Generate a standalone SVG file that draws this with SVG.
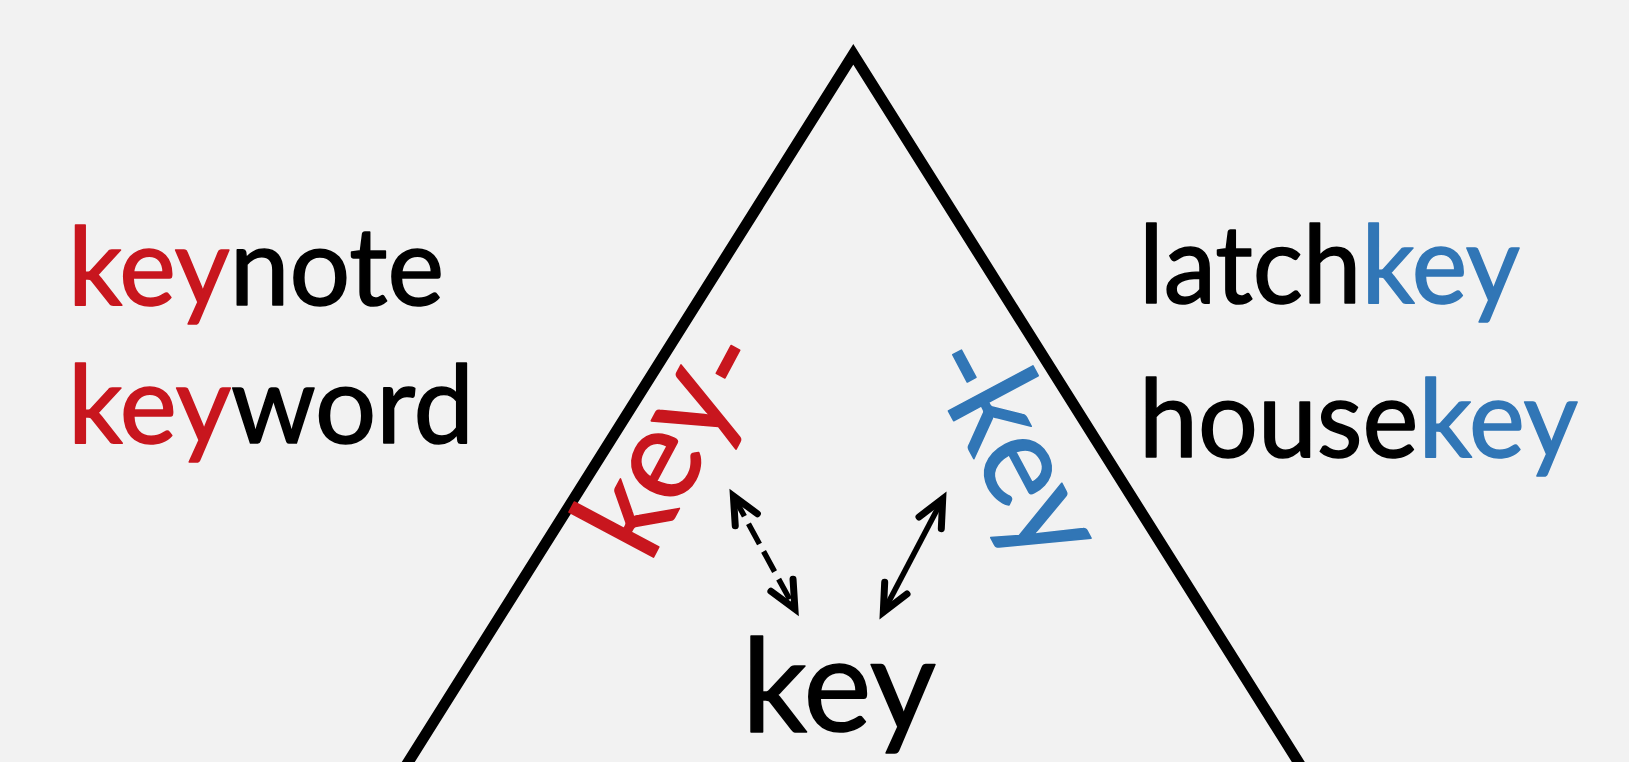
<svg xmlns="http://www.w3.org/2000/svg" width="1629" height="762" viewBox="0 0 1629 762">
  <style>
    .w { font-family: Lato, "Liberation Sans", "DejaVu Sans", sans-serif; fill: #000; stroke: #000; stroke-width: 1.6; stroke-linejoin: round; }
    .red { fill: #C8161E; stroke: #C8161E; }
    .blue { fill: #3176B6; stroke: #3176B6; }
    .conn { fill: none; stroke: #000; stroke-width: 5.5; }
    .dash { stroke-dasharray: 23 8.5; }
  </style>
  <defs>
    <marker id="head" markerUnits="userSpaceOnUse" orient="auto-start-reverse" refX="0" refY="0" markerWidth="60" markerHeight="60" overflow="visible">
      <path d="M -27,-12.6 L 0,0 L -27,12.6" fill="none" stroke="#000" stroke-width="7" stroke-linejoin="miter" stroke-linecap="round" stroke-dasharray="none"/>
    </marker>
  </defs>
  <rect x="0" y="0" width="1629" height="762" fill="#F2F2F2"/>

  <g id="triangle">
    <polyline points="380.6,806 853.3,54.3 1326,806" fill="none" stroke="#000" stroke-width="11" stroke-linejoin="miter" stroke-miterlimit="10"/>
  </g>

  <g id="node-keynote">
    <text class="w" x="68" y="305" font-size="108" textLength="376" lengthAdjust="spacingAndGlyphs"><tspan class="red">key</tspan>note</text>
  </g>
  <g id="node-keyword">
    <text class="w" x="68" y="443" font-size="108" textLength="406" lengthAdjust="spacingAndGlyphs"><tspan class="red">key</tspan>word</text>
  </g>
  <g id="node-latchkey">
    <text class="w" x="1139" y="303" font-size="108" textLength="381" lengthAdjust="spacingAndGlyphs">latch<tspan class="blue">key</tspan></text>
  </g>
  <g id="node-housekey">
    <text class="w" x="1139" y="457" font-size="108" textLength="439" lengthAdjust="spacingAndGlyphs">house<tspan class="blue">key</tspan></text>
  </g>

  <g id="node-key-prefix">
    <text class="w red" transform="translate(649.3,565) rotate(-62)" x="0" y="0" font-size="130" textLength="240" lengthAdjust="spacingAndGlyphs">key<tspan dy="13">-</tspan></text>
  </g>
  <g id="node-key-suffix">
    <text class="w blue" transform="translate(922.5,361.8) rotate(62)" x="0" y="0" font-size="130" textLength="236" lengthAdjust="spacingAndGlyphs"><tspan dy="4">-</tspan><tspan dy="-4">key</tspan></text>
  </g>
  <g id="node-key">
    <text class="w" x="742" y="731" font-size="130" textLength="194" lengthAdjust="spacingAndGlyphs">key</text>
  </g>

  <g id="connectors">
    <line class="conn dash" x1="733.4" y1="496.1" x2="794.9" y2="608.9" marker-start="url(#head)" marker-end="url(#head)"/>
    <line class="conn" x1="883.3" y1="612.1" x2="942.7" y2="498.9" marker-start="url(#head)" marker-end="url(#head)"/>
  </g>
</svg>
